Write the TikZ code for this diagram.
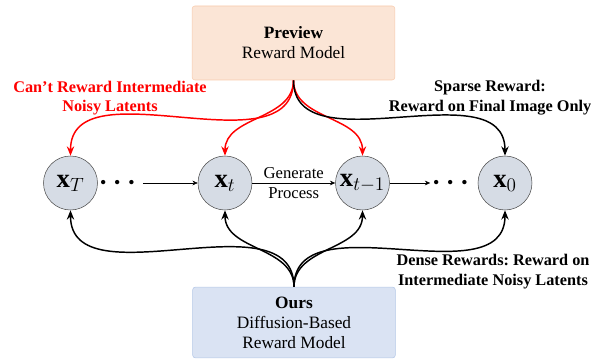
\documentclass[tikz,border=0pt]{standalone}
\usepackage{amsmath, amssymb}
\usepackage{xcolor}
\usepackage{fontspec}
\setmainfont{Liberation Serif}
\usepackage{tikz}
\usetikzlibrary{arrows.meta, positioning, calc}
\frenchspacing
\definecolor{accentred}{HTML}{FF0000}
\definecolor{boxpreview}{HTML}{FBE5D6}
\definecolor{linepreview}{HTML}{F8CBAD}
\definecolor{boxours}{HTML}{DAE3F3}
\definecolor{lineours}{HTML}{B4C7E7}
\definecolor{nodelatent}{HTML}{D6DCE5}

\begin{document}
\begin{tikzpicture}[
    x=0.75pt, y=0.75pt,
    >={Stealth[length=7pt, width=5.5pt]},
    rbox/.style={draw=line#1, fill=box#1, rounded corners=2pt, minimum width=152pt, align=center, font=\fontsize{13}{15}\selectfont},
    latent/.style={circle, draw=black!70, fill=nodelatent, minimum size=40.5pt, inner sep=0pt, font=\fontsize{20}{20}\selectfont},
    dotbox/.style={inner sep=1pt, font=\fontsize{19.5}{20}\selectfont},
    lbl/.style={align=center, font=\fontsize{12.2}{14.5}\selectfont\bfseries},
    reward/.style={->, line width=1.1pt},
    chain/.style={->, >={Stealth[length=4pt, width=3.5pt]}, thin},
]
    \useasboundingbox (0, 0) rectangle (597, 360);

    \node[rbox=preview, minimum height=55.5pt] (preview) at (293.5, 317) {\textbf{Preview}\\Reward Model};
    \node[rbox=ours, minimum height=53pt] (ours) at (294, 37.5) {\textbf{Ours}\\Diffusion-Based\\Reward Model};

    \node[latent] (xT) at (70.5, 177) {$\mathbf{x}_T$};
    \node[latent] (xt) at (225, 177) {$\mathbf{x}_t$};
    \node[latent] (xtm) at (362.5, 177) {$\mathbf{x}_{t-1}$};
    \node[latent] (x0) at (505, 177) {$\mathbf{x}_0$};
    \node[dotbox] (dotsa) at (120, 177) {$\boldsymbol{\cdots}$};
    \node[dotbox] (dotsb) at (453, 177) {$\boldsymbol{\cdots}$};

    % Generation chain
    \draw[chain] (dotsa) -- (xt);
    \draw[chain] (xt) -- node[above, font=\fontsize{12.5}{14}\selectfont] {Generate} node[below, font=\fontsize{12.5}{14}\selectfont] {Process} (xtm);
    \draw[chain] (xtm) -- (dotsb);

    % Reward labels
    \node[lbl, text=accentred] (cant) at (110, 262) {Can’t Reward Intermediate\\Noisy Latents};
    \node[lbl] (sparse) at (490, 262.5) {Sparse Reward:\\Reward on Final Image Only};
    \node[lbl] (dense) at (493, 88.5) {Dense Rewards: Reward on\\Intermediate Noisy Latents};

    \draw[reward, accentred] (preview.south) to[out=-90, in=90] (xT.north);
    \draw[reward, accentred] (preview.south) to[out=-90, in=90] (xt.north);
    \draw[reward, accentred] (preview.south) to[out=-90, in=90] (xtm.north);
    \draw[reward] (preview.south) to[out=-90, in=90] (x0.north);

    \draw[reward] (ours.north) to[out=90, in=-90] (xT.south);
    \draw[reward] (ours.north) to[out=90, in=-90] (xt.south);
    \draw[reward] (ours.north) to[out=90, in=-90] (xtm.south);
    \draw[reward] (ours.north) to[out=90, in=-90] (x0.south);
\end{tikzpicture}
\end{document}
